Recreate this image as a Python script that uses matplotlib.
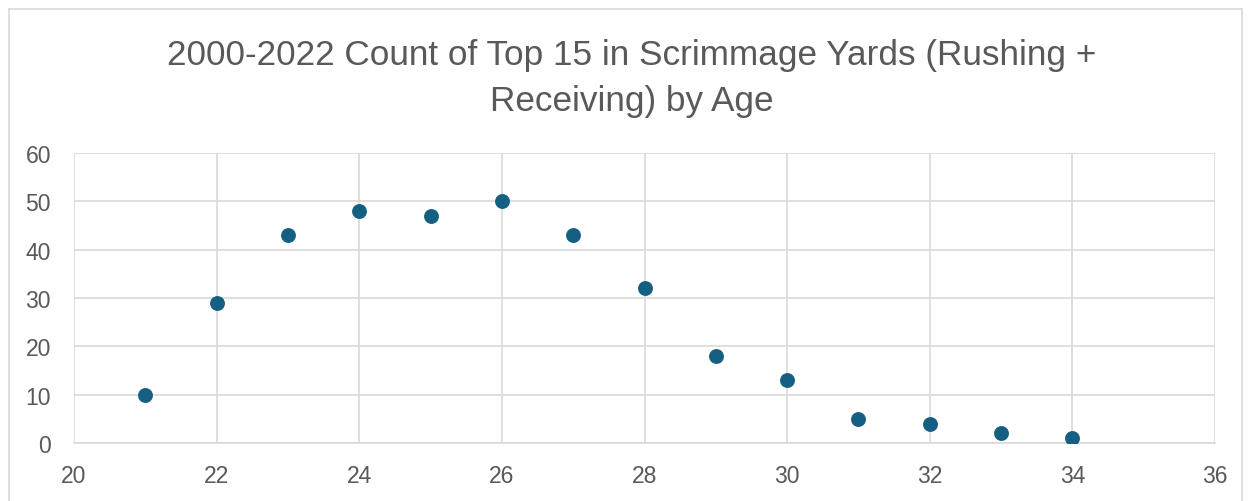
import matplotlib.pyplot as plt
from matplotlib.lines import Line2D

ages = [21, 22, 23, 24, 25, 26, 27, 28, 29, 30, 31, 32, 33, 34]
counts = [10, 29, 43, 48, 47, 50, 43, 32, 18, 13, 5, 4, 2, 1]
x_ticks = [20, 22, 24, 26, 28, 30, 32, 34, 36]
y_ticks = [0, 10, 20, 30, 40, 50, 60]
title = "2000-2022 Count of Top 15 in Scrimmage Yards (Rushing +\nReceiving) by Age"

W, H = 1252, 502
plt.rcParams["font.family"] = ["Liberation Sans", "DejaVu Sans"]

fig = plt.figure(figsize=(W / 100, H / 100), dpi=100)
ax = fig.add_axes([74 / W, 1 - 444 / H, (1215 - 74) / W, (444 - 154) / H])

ax.scatter(ages, counts, s=115, color="#156082", zorder=3, linewidths=0)

ax.set_xlim(20, 36)
ax.set_ylim(0, 60)
ax.set_xticks(x_ticks)
ax.set_yticks(y_ticks)
ax.grid(True, color="#D9D9D9", linewidth=1.2)
for side in ["top", "right", "left"]:
    ax.spines[side].set_visible(False)
ax.spines["bottom"].set_color("#D9D9D9")
ax.spines["bottom"].set_linewidth(1.2)
ax.tick_params(length=0, labelsize=16.5, labelcolor="#595959")
ax.tick_params(axis="x", pad=15)
ax.tick_params(axis="y", pad=16.5)

fig.text(632 / W, 1 - 78 / H, title, ha="center", va="center",
         fontsize=25.3, color="#595959", linespacing=1.5)

# outer chart border
border = "#D9D9D9"
fig.add_artist(Line2D([9 / W, 9 / W], [0, 1 - 10 / H], color=border, lw=1.2, transform=fig.transFigure))
fig.add_artist(Line2D([9 / W, 1242 / W], [1 - 10 / H, 1 - 10 / H], color=border, lw=1.2, transform=fig.transFigure))
fig.add_artist(Line2D([1242 / W, 1242 / W], [0, 1 - 10 / H], color=border, lw=1.2, transform=fig.transFigure))

fig.savefig("out.png", dpi=100)
